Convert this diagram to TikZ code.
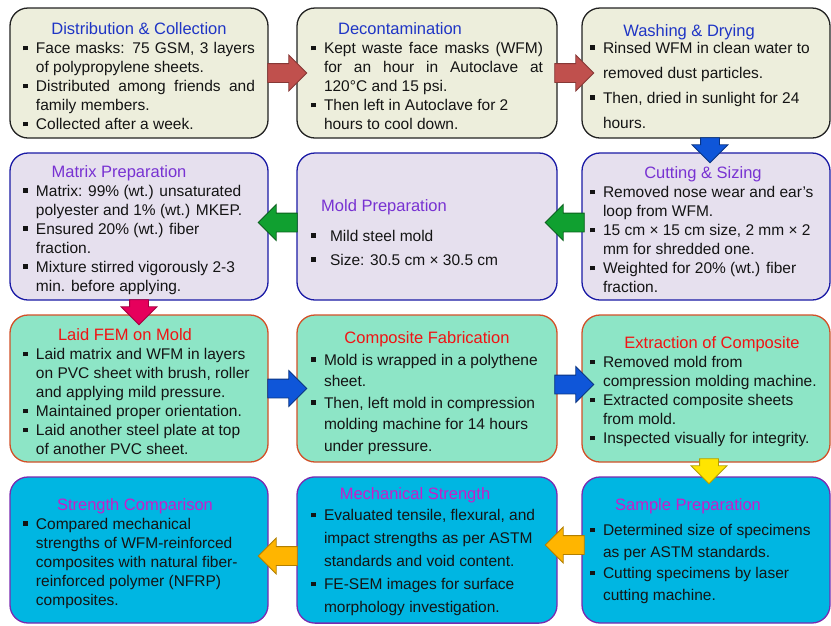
\documentclass[tikz,border=0pt]{standalone}
\usepackage{fontspec}
\setmainfont{Liberation Sans}
\usepackage{xcolor}
\usepackage{tikz}
\usetikzlibrary{calc, shapes.arrows}
\definecolor{kbeige}{HTML}{EDEEDC}
\definecolor{klav}{HTML}{E6E0EE}
\definecolor{kmint}{HTML}{8DE5C6}
\definecolor{kcyan}{HTML}{00B6E2}
\definecolor{klineone}{HTML}{222222}
\definecolor{klinetwo}{HTML}{1A1AA5}
\definecolor{klinethree}{HTML}{D25028}
\definecolor{klinefour}{HTML}{7A2AB0}
\definecolor{ttlone}{HTML}{1F35C5}
\definecolor{ttltwo}{HTML}{7832D2}
\definecolor{ttlthree}{HTML}{F01414}
\definecolor{ttlfour}{HTML}{C81EC8}
\definecolor{kred}{HTML}{C0504D}
\definecolor{kblue}{HTML}{0F56D9}
\definecolor{kgreen}{HTML}{10A030}
\definecolor{kpink}{HTML}{E6005C}
\definecolor{kyellow}{HTML}{FFE500}
\definecolor{kamber}{HTML}{FFB500}

\newcommand{\bodyfont}[1]{\fontsize{15.5}{#1}\selectfont\tolerance=10000\hbadness=10000\relax}
\newcommand{\bul}[2][13pt]{\par\noindent\makebox[#1][l]{\rule[3.5pt]{4.5pt}{4.5pt}}%
  \parbox[t]{\dimexpr\linewidth-#1\relax}{#2\par\xdef\bulldepth{\the\prevdepth}}\par\prevdepth=\bulldepth\relax}
\newcommand{\ttl}[3][0pt]{\par\noindent\makebox[\linewidth]{\hspace*{#1}\hspace*{#1}\fontsize{16.5}{19}\selectfont\color{#2}#3}\par}

\tikzset{
  stage/.style={rounded corners=18pt, line width=1.3pt, text width=232pt, align=justify,
    inner xsep=0pt, inner ysep=0pt, font=\bodyfont{19}, text=black!92},
  rowone/.style={stage, fill=kbeige, draw=klineone, minimum height=130pt},
  rowtwo/.style={stage, fill=klav, draw=klinetwo, minimum height=147pt},
  rowthree/.style={stage, fill=kmint, draw=klinethree, minimum height=147pt},
  rowfour/.style={stage, fill=kcyan, draw=klinefour, minimum height=146pt},
  bigarrow/.style={single arrow, single arrow head extend=8.5pt, single arrow tip angle=90,
    minimum width=35pt, minimum height=39pt, inner xsep=0pt, inner ysep=9pt, line width=0.8pt},
  leftarrow/.style={bigarrow, rotate=180},
  downarrow/.style={bigarrow, rotate=-90, minimum height=25pt}
}

\begin{document}
\begin{tikzpicture}[x=1pt, y=-1pt]
\useasboundingbox (0,0) rectangle (831,625);
\node[rowone, minimum width=258pt] (distrib) at (139,73) {%
  \ttl{ttlone}{Distribution \& Collection}
  \bul{Face masks: 75 GSM, 3 layers\linebreak of polypropylene sheets.}
  \bul{Distributed among friends and\linebreak family members.}
  \bul{Collected after a week.}};
\node[rowone, minimum width=260pt] (decon) at (427,73) {%
  \ttl[-27pt]{ttlone}{Decontamination}
  \bul{Kept waste face masks (WFM)\linebreak for an hour in Autoclave at\linebreak 120°C and 15 psi.}
  \bul{Then left in Autoclave for 2\newline hours to cool down.}};
\node[rowone, minimum width=248pt, font=\bodyfont{25}] (washing) at (706,73) {%
  \ttl[-17pt]{ttlone}{Washing \& Drying}\vspace{-8pt}
  \bul{Rinsed WFM in clean water to\newline removed dust particles.}
  \bul{Then, dried in sunlight for 24\newline hours.}\vspace*{6pt}};
\node[rowtwo, minimum width=258pt] (matrix) at (139,226.5) {%
  \ttl[-20pt]{ttltwo}{Matrix Preparation}
  \bul{Matrix: 99\% (wt.) unsaturated\newline polyester and 1\% (wt.) MKEP.}
  \bul{Ensured 20\% (wt.) fiber\newline fraction.}
  \bul{Mixture stirred vigorously 2-3\newline min. before applying.}};
\node[rowtwo, minimum width=260pt, font=\bodyfont{24}] (mold) at (427,226.5) {%
  \ttl[-43pt]{ttltwo}{Mold Preparation}\vspace{6pt}
  \bul[19pt]{Mild steel mold}
  \bul[19pt]{Size: 30.5 cm × 30.5 cm}};
\node[rowtwo, minimum width=248pt] (cutting) at (706,226.5) {%
  \ttl[-3pt]{ttltwo}{Cutting \& Sizing}
  \bul{Removed nose wear and ear’s\newline loop from WFM.}
  \bul{15 cm × 15 cm size, 2 mm × 2\newline mm for shredded one.}
  \bul{Weighted for 20\% (wt.) fiber\newline fraction.}};
\node[rowthree, minimum width=258pt] (laid) at (139,388.5) {%
  \ttl[-14pt]{ttlthree}{Laid FEM on Mold}
  \bul{Laid matrix and WFM in layers\newline on PVC sheet with brush, roller\newline and applying mild pressure.}
  \bul{Maintained proper orientation.}
  \bul{Laid another steel plate at top\newline of another PVC sheet.}};
\node[rowthree, minimum width=260pt, font=\bodyfont{21.5}] (fabric) at (427,388.5) {%
  \ttl{ttlthree}{Composite Fabrication}
  \bul{Mold is wrapped in a polythene\newline sheet.}
  \bul{Then, left mold in compression\newline molding machine for 14 hours\newline under pressure.}};
\node[rowthree, minimum width=248pt] (extract) at (706,388.5) {%
  \ttl[6pt]{ttlthree}{Extraction of Composite}
  \bul{Removed mold from\newline compression molding machine.}
  \bul{Extracted composite sheets\newline from mold.}
  \bul{Inspected visually for integrity.}};
\node[rowfour, minimum width=258pt] (compare) at (139,550) {%
  \ttl[-4pt]{ttlfour}{Strength Comparison}
  \bul{Compared mechanical\newline strengths of WFM-reinforced\newline composites with natural fiber-\newline reinforced polymer (NFRP)\newline composites.}};
\node[rowfour, minimum width=260pt, font=\bodyfont{23}] (mech) at (427,550) {%
  \ttl[-12pt]{ttlfour}{Mechanical Strength}\vspace{-2pt}
  \bul{Evaluated tensile, flexural, and\newline impact strengths as per ASTM\newline standards and void content.}
  \bul{FE-SEM images for surface\newline morphology investigation.}\vspace*{7pt}};
\node[rowfour, minimum width=248pt, font=\bodyfont{21.5}] (sample) at (706,550) {%
  \ttl[-18pt]{ttlfour}{Sample Preparation}\vspace{3.5pt}
  \bul{Determined size of specimens\newline as per ASTM standards.}
  \bul{Cutting specimens by laser\newline cutting machine.}\vspace*{7pt}};
\node[bigarrow, fill=kred, draw=kred!70!black] (toDecon) at ($(distrib.east)!0.5!(decon.west)$) {};
\node[bigarrow, fill=kred, draw=kred!70!black] (toWash) at ($(decon.east)!0.5!(washing.west)$) {};
\node[xshift=4pt, downarrow, fill=kblue, draw=kblue!60!black] (toCut) at ($(washing.south)!0.5!(cutting.north)$) {};
\node[yshift=4pt, leftarrow, fill=kgreen, draw=kgreen!60!black] (toMold) at ($(cutting.west)!0.5!(mold.east)$) {};
\node[yshift=4pt, leftarrow, fill=kgreen, draw=kgreen!60!black] (toMatrix) at ($(mold.west)!0.5!(matrix.east)$) {};
\node[downarrow, fill=kpink, draw=kpink!70!black] (toLaid) at ($(matrix.south)!0.5!(laid.north)$) {};
\node[bigarrow, fill=kblue, draw=kblue!60!black] (toFabric) at ($(laid.east)!0.5!(fabric.west)$) {};
\node[yshift=4pt, bigarrow, fill=kblue, draw=kblue!60!black] (toExtract) at ($(fabric.east)!0.5!(extract.west)$) {};
\node[xshift=3pt, yshift=3pt, downarrow, fill=kyellow, draw=kyellow!70!black] (toSample) at ($(extract.south)!0.5!(sample.north)$) {};
\node[yshift=5pt, leftarrow, fill=kamber, draw=kamber!70!black] (toMech) at ($(sample.west)!0.5!(mech.east)$) {};
\node[yshift=-6pt, leftarrow, fill=kamber, draw=kamber!70!black] (toCompare) at ($(mech.west)!0.5!(compare.east)$) {};
\end{tikzpicture}
\end{document}
